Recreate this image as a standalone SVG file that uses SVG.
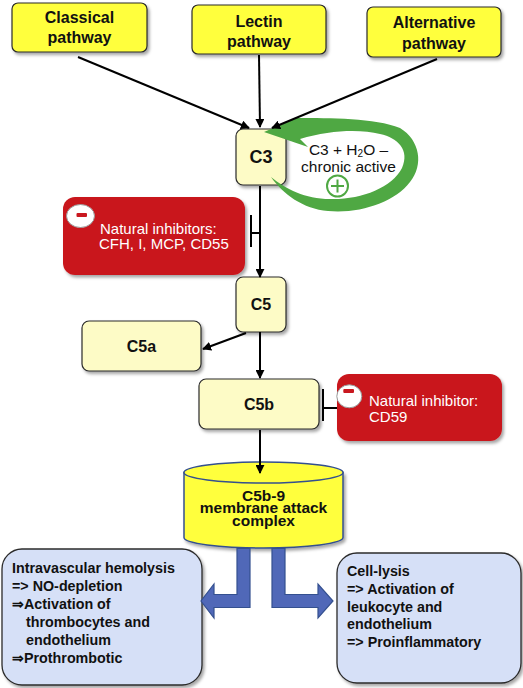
<svg xmlns="http://www.w3.org/2000/svg" width="523" height="688" viewBox="0 0 523 688">
<defs>
<filter id="sh" x="-10%" y="-10%" width="130%" height="140%">
<feDropShadow dx="2" dy="2.5" stdDeviation="1.8" flood-color="#000" flood-opacity="0.35"/>
</filter>
<marker id="ah" viewBox="0 0 10 10" refX="9" refY="5" markerWidth="9" markerHeight="9" markerUnits="userSpaceOnUse" orient="auto">
<path d="M0,0 L10,5 L0,10 Z" fill="#000"/>
</marker>
<style>
.path{fill:#ffff3c;stroke:#2b2b2b;stroke-width:1.2}
.comp{fill:#fdfbc6;stroke:#2b2b2b;stroke-width:1.2}
.red{fill:#c9181f}
.blue{fill:#d6e0f7;stroke:#2b2b2b;stroke-width:1.3}
.t{font-family:"Liberation Sans",Arial,sans-serif}
.tb{font-family:"Liberation Sans",Arial,sans-serif;font-weight:bold;fill:#111}
.w{font-family:"Liberation Sans",Arial,sans-serif;fill:#fff;font-size:15px}
.ln{stroke:#000;stroke-width:2;fill:none}
.barr{fill:#5068b8;stroke:#34508f;stroke-width:1.2}
</style>
</defs>
<rect width="523" height="688" fill="#fff"/>

<g id="classical">
<rect class="path" x="12" y="3" width="135" height="49" rx="6" filter="url(#sh)"/>
<text class="tb" font-size="16" text-anchor="middle" x="79.5" y="23">Classical</text>
<text class="tb" font-size="16" text-anchor="middle" x="79.5" y="43">pathway</text>
</g>
<g id="lectin">
<rect class="path" x="192" y="5" width="134" height="49" rx="6" filter="url(#sh)"/>
<text class="tb" font-size="16" text-anchor="middle" x="259" y="26.5">Lectin</text>
<text class="tb" font-size="16" text-anchor="middle" x="259" y="46.5">pathway</text>
</g>
<g id="alternative">
<rect class="path" x="367" y="7" width="134" height="50" rx="6" filter="url(#sh)"/>
<text class="tb" font-size="16" text-anchor="middle" x="434" y="28">Alternative</text>
<text class="tb" font-size="16" text-anchor="middle" x="434" y="48.5">pathway</text>
</g>

<g id="c3">
<rect class="comp" x="236" y="129" width="50" height="56" rx="7" filter="url(#sh)"/>
<text class="tb" font-size="18" text-anchor="middle" x="261" y="163">C3</text>
</g>

<g id="c3-loop">
<path fill="#4fa843" d="M264,132 L297,118 C330,118 375,118 400,128 C420,140 424,165 410,182 C395,202 360,214 328,211 C303,209 283,194 271,177 C286,189 305,199 330,199 C360,200 392,188 402,168 C410,150 398,138 380,134 C360,129 330,130 300,139 L308,147 Z"/>
<text class="t" font-size="15.5" fill="#111" text-anchor="middle" x="348.5" y="155">C3 + H<tspan font-size="10" dy="2">2</tspan><tspan dy="-2">O –</tspan></text>
<text class="t" font-size="15.5" fill="#111" text-anchor="middle" x="348.5" y="172">chronic active</text>
<circle cx="337.5" cy="186" r="10.5" fill="#fff" stroke="#4fa843" stroke-width="2"/>
<path d="M331,186 H344 M337.5,179.5 V192.5" stroke="#4fa843" stroke-width="2"/>
</g>

<g id="inhibitor1">
<rect class="red" x="63" y="197" width="182" height="78" rx="12" filter="url(#sh)"/>
<ellipse cx="80.5" cy="216" rx="14" ry="11.5" fill="#fff" stroke="#999" stroke-width="1"/>
<rect x="76.5" y="213" width="10.5" height="4" rx="1" fill="#c9181f"/>
<text class="w" x="100" y="234">Natural inhibitors:</text>
<text class="w" x="99" y="249">CFH, I, MCP, CD55</text>
</g>

<g id="c5">
<rect class="comp" x="236" y="277" width="50" height="55" rx="7" filter="url(#sh)"/>
<text class="tb" font-size="16" text-anchor="middle" x="261" y="310">C5</text>
</g>
<g id="c5a">
<rect class="comp" x="82" y="321" width="119" height="50" rx="7" filter="url(#sh)"/>
<text class="tb" font-size="16" text-anchor="middle" x="141.5" y="352">C5a</text>
</g>
<g id="c5b">
<rect class="comp" x="199" y="379" width="120" height="50" rx="7" filter="url(#sh)"/>
<text class="tb" font-size="16" text-anchor="middle" x="259" y="410">C5b</text>
</g>

<g id="inhibitor2">
<rect class="red" x="337" y="374" width="165" height="67" rx="12" filter="url(#sh)"/>
<ellipse cx="349.3" cy="396.3" rx="12.5" ry="11.5" fill="#fff" stroke="#999" stroke-width="1"/>
<rect x="343.3" y="389" width="10.7" height="4" rx="1" fill="#c9181f"/>
<text class="w" x="369" y="405.5">Natural inhibitor:</text>
<text class="w" x="369" y="421.5">CD59</text>
</g>

<g id="mac">
<path d="M184,472.5 L184,537.5 A79.5,10.5 0 0 0 343,537.5 L343,472.5 Z" fill="#ffff3c" stroke="#34508f" stroke-width="1.5" filter="url(#sh)"/>
<ellipse cx="263.5" cy="472.5" rx="79.5" ry="10.5" fill="#ffff3c" stroke="#34508f" stroke-width="1.5"/>
<text class="tb" font-size="15.5" text-anchor="middle" x="263.5" y="500.5">C5b-9</text>
<text class="tb" font-size="15.5" text-anchor="middle" x="263.5" y="513.3">membrane attack</text>
<text class="tb" font-size="15.5" text-anchor="middle" x="263.5" y="526">complex</text>
</g>

<g id="hemolysis">
<rect class="blue" x="2" y="549" width="200" height="136" rx="20" filter="url(#sh)"/>
<text class="tb" font-size="14.3">
<tspan x="12" y="573">Intravascular hemolysis</tspan>
<tspan x="12" y="591">=&gt; NO-depletion</tspan>
<tspan x="12" y="609">⇒Activation of</tspan>
<tspan x="26" y="626.7">thrombocytes and</tspan>
<tspan x="26" y="644.5">endothelium</tspan>
<tspan x="12" y="662.5">⇒Prothrombotic</tspan>
</text>
</g>

<g id="celllysis">
<rect class="blue" x="337" y="553" width="184" height="130" rx="20" filter="url(#sh)"/>
<text class="tb" font-size="14.3">
<tspan x="347" y="576">Cell-lysis</tspan>
<tspan x="347" y="594">=&gt; Activation of</tspan>
<tspan x="347" y="611.7">leukocyte and</tspan>
<tspan x="347" y="629.3">endothelium</tspan>
<tspan x="347" y="647.3">=&gt; Proinflammatory</tspan>
</text>
</g>

<g id="connectors">
<line class="ln" x1="78" y1="57" x2="249" y2="128" marker-end="url(#ah)"/>
<line class="ln" x1="259" y1="55" x2="260" y2="127" marker-end="url(#ah)"/>
<line class="ln" x1="437" y1="59" x2="272" y2="128" marker-end="url(#ah)"/>
<line class="ln" x1="260" y1="186" x2="260" y2="277" marker-end="url(#ah)"/>
<path class="ln" d="M251,215 V247 M251,233 H260"/>
<line class="ln" x1="246" y1="333" x2="203" y2="349" marker-end="url(#ah)"/>
<line class="ln" x1="260" y1="332" x2="260" y2="378" marker-end="url(#ah)"/>
<path class="ln" d="M323,389 V421 M323,408 H337"/>
<line class="ln" x1="260" y1="430" x2="260" y2="473" marker-end="url(#ah)"/>
<path class="barr" d="M237,548.5 L250,548.5 L250,607.5 L214,607.5 L214,618 L201,601 L214,584 L214,594.5 L237,594.5 Z"/>
<path class="barr" d="M272,548.5 L285,548.5 L285,594.5 L318,594.5 L318,584 L333,601 L318,618 L318,607.5 L272,607.5 Z"/>
</g>
</svg>
